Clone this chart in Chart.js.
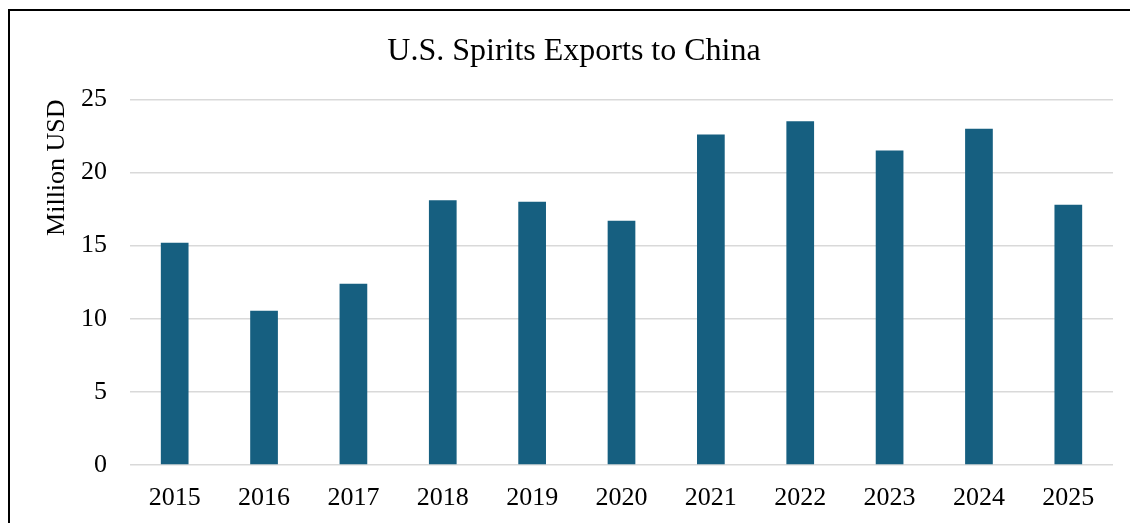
<!DOCTYPE html>
<html>
<head>
<meta charset="utf-8" />
<script src="https://cdn.jsdelivr.net/npm/chart.js"></script>
<style>
  html, body { margin: 0; padding: 0; background: #fff; overflow: hidden; }
  body { width: 1130px; height: 523px; position: relative; }
  .frame { position: absolute; left: 8px; top: 9px; width: 1140px; height: 540px; border: 2px solid #000; box-sizing: border-box; }
  .chart-box { position: absolute; left: 0; top: 0; width: 1130px; height: 523px; }
</style>
</head>
<body>
<div class="frame"></div>
<div class="chart-box"><canvas id="spirits"></canvas></div>
<script>
// values
const years = ["2015", "2016", "2017", "2018", "2019", "2020", "2021", "2022", "2023", "2024", "2025"];
const exportsMillionUsd = [15.2, 10.55, 12.4, 18.1, 18.0, 16.7, 22.6, 23.5, 21.5, 23.0, 17.8];
const yTicks = [0, 5, 10, 15, 20, 25];

const serif = "'Liberation Serif', 'DejaVu Serif', serif";

new Chart(document.getElementById("spirits"), {
  type: "bar",
  data: {
    labels: years,
    datasets: [{
      label: "U.S. Spirits Exports to China",
      data: exportsMillionUsd,
      backgroundColor: "#165f80",
      borderWidth: 0,
      categoryPercentage: 1,
      barPercentage: 0.31
    }]
  },
  options: {
    responsive: true,
    maintainAspectRatio: false,
    animation: false,
    // left/right padding differ so the title sits centred in the frame
    layout: { padding: { top: 0, left: 35, right: 17, bottom: 0 } },
    plugins: {
      legend: { display: false },
      tooltip: { enabled: false },
      title: {
        display: true,
        text: "U.S. Spirits Exports to China",
        color: "#000",
        font: { family: serif, size: 32, weight: "normal" },
        padding: { top: 32, bottom: 29 }
      }
    },
    scales: {
      x: {
        grid: { display: false },
        border: { display: false },
        ticks: { color: "#000", font: { family: serif, size: 26 }, padding: 10, maxRotation: 0 },
        afterFit: (axis) => { axis.height = 58; }
      },
      y: {
        min: yTicks[0],
        max: yTicks[yTicks.length - 1],
        afterBuildTicks: (axis) => { axis.ticks = yTicks.map((v) => ({ value: v })); },
        grid: { color: "#d9d9d9", lineWidth: 1.5, drawTicks: false },
        border: { display: false },
        ticks: { color: "#000", font: { family: serif, size: 26 }, padding: 23 },
        title: {
          display: true,
          text: "Million USD",
          align: "end",
          color: "#000",
          font: { family: serif, size: 26 },
          padding: { top: 7, bottom: 0 }
        },
        afterFit: (axis) => { axis.width = 95; }
      }
    }
  }
});
</script>
</body>
</html>
